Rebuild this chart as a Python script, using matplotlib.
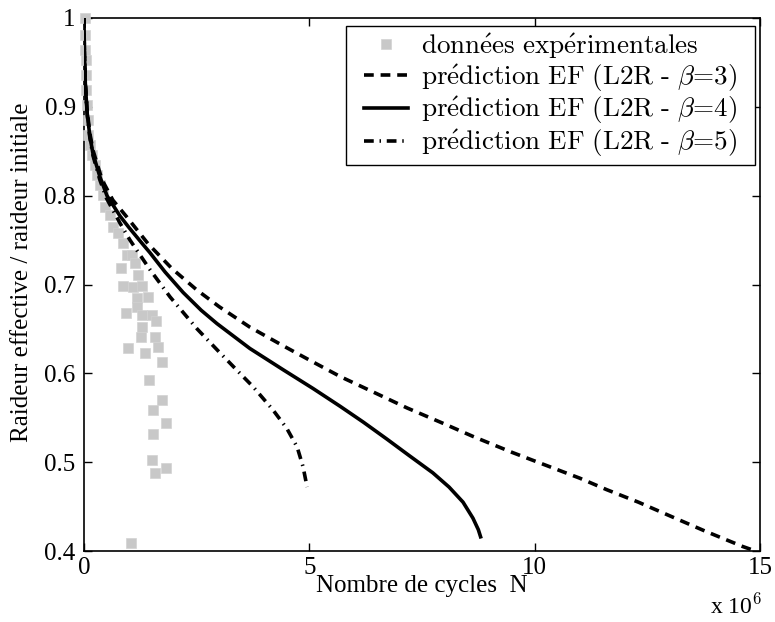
import matplotlib
matplotlib.use("Agg")
import matplotlib.pyplot as plt
from matplotlib.patches import Rectangle

plt.rcParams['font.family'] = ['Liberation Serif', 'DejaVu Serif']
plt.rcParams['mathtext.fontset'] = 'cm'

# experimental data (N in 1e6 cycles, stiffness ratio)
exp_x = [0.02, 0.02, 0.02, 0.04, 0.04, 0.04, 0.07, 0.09, 0.09, 0.13, 0.18, 0.24, 0.29, 0.35, 0.42,
         0.46, 0.58, 0.64, 0.75, 0.86, 0.95, 1.06, 0.82, 1.13, 0.86, 1.19, 1.08, 1.28, 1.17, 1.42,
         1.17, 0.93, 1.28, 1.50, 1.59, 1.28, 1.26, 1.57, 0.97, 1.64, 1.35, 1.73, 1.44, 1.73, 1.53,
         1.81, 1.53, 1.50, 1.81, 1.57, 1.04]
exp_y = [1.000, 0.981, 0.964, 0.953, 0.936, 0.919, 0.902, 0.885, 0.868, 0.857, 0.846, 0.835, 0.823, 0.812, 0.801,
         0.787, 0.778, 0.765, 0.758, 0.747, 0.733, 0.733, 0.719, 0.724, 0.698, 0.711, 0.697, 0.698, 0.685, 0.686,
         0.675, 0.668, 0.666, 0.666, 0.659, 0.652, 0.641, 0.641, 0.629, 0.630, 0.623, 0.613, 0.592, 0.570, 0.559,
         0.544, 0.532, 0.502, 0.493, 0.488, 0.409]

# FE predictions
b3_x = [0, 0.005, 0.01, 0.03, 0.07, 0.13, 0.2, 0.4, 0.64, 0.95, 1.42, 1.95, 2.5, 3.0, 3.68, 4.42, 5.0,
        5.7, 6.5, 7.17, 8.0, 8.63, 9.5, 10.12, 11.0, 11.6, 12.3, 13.07, 13.8, 14.62, 14.9]
b3_y = [1.0, 0.975, 0.96, 0.925, 0.896, 0.870, 0.851, 0.818, 0.795, 0.776, 0.746, 0.718, 0.694, 0.675, 0.652,
        0.631, 0.615, 0.596, 0.577, 0.561, 0.543, 0.529, 0.511, 0.499, 0.482, 0.469, 0.455, 0.438, 0.422,
        0.405, 0.400]

b4_x = [0, 0.005, 0.01, 0.03, 0.07, 0.13, 0.2, 0.355, 0.51, 0.8, 1.0, 1.31, 1.46, 1.8, 2.2, 2.6, 2.95,
        3.68, 4.42, 5.08, 5.68, 6.2, 6.72, 7.2, 7.74, 8.1, 8.41, 8.63, 8.75, 8.8]
b4_y = [1.0, 0.975, 0.96, 0.925, 0.893, 0.867, 0.847, 0.821, 0.800, 0.777, 0.764, 0.745, 0.736, 0.714, 0.691,
        0.671, 0.656, 0.628, 0.604, 0.583, 0.563, 0.545, 0.526, 0.508, 0.488, 0.472, 0.455, 0.437, 0.424,
        0.416]

b5_x = [0, 0.005, 0.01, 0.03, 0.07, 0.13, 0.2, 0.35, 0.5, 0.8, 1.02, 1.46, 1.91, 2.51, 3.0, 3.46, 3.75,
        4.19, 4.5, 4.73, 4.86, 4.95]
b5_y = [1.0, 0.975, 0.96, 0.925, 0.892, 0.865, 0.845, 0.818, 0.797, 0.769, 0.750, 0.717, 0.686, 0.650,
        0.624, 0.600, 0.585, 0.559, 0.538, 0.517, 0.495, 0.472]

xticks = [0, 5, 10, 15]
yticks = [0.4, 0.5, 0.6, 0.7, 0.8, 0.9, 1.0]
ytick_labels = ['0.4', '0.5', '0.6', '0.7', '0.8', '0.9', '1']

fig = plt.figure(figsize=(7.75, 6.22), dpi=100)
ax = fig.add_axes([84/775, 1-551/622, (760-84)/775, (551-18)/622])

ax.plot(exp_x, exp_y, 's', color='#c8c8c8', markersize=7.5, markeredgecolor='#d2d2d2',
        markeredgewidth=0.5, linestyle='none', clip_on=False, zorder=3,
        label=r'$\mathrm{donn\acute{e}es\ exp\acute{e}rimentales}$')
ax.plot(b3_x, b3_y, color='black', lw=2.6, linestyle=(0, (2.7, 1.9)), zorder=4,
        label=r'$\mathrm{pr\acute{e}diction\ EF\ (L2R\ }\text{-}\ \beta\text{=3)}$')
ax.plot(b4_x, b4_y, color='black', lw=2.6, linestyle='-', zorder=4,
        label=r'$\mathrm{pr\acute{e}diction\ EF\ (L2R\ }\text{-}\ \beta\text{=4)}$')
ax.plot(b5_x, b5_y, color='black', lw=2.6, linestyle=(0, (2.7, 1.6, 0.4, 1.6)), zorder=4,
        label=r'$\mathrm{pr\acute{e}diction\ EF\ (L2R\ }\text{-}\ \beta\text{=5)}$')

ax.set_xlim(0, 15)
ax.set_ylim(0.4, 1.0)
ax.set_xticks(xticks)
ax.set_xticklabels([str(t) for t in xticks])
ax.set_yticks(yticks)
ax.set_yticklabels(ytick_labels)
ax.tick_params(direction='in', length=6, width=1, top=True, right=True, labelsize=18)
ax.tick_params(axis='x', pad=4.5)
ax.tick_params(axis='y', pad=6)
for s in ax.spines.values():
    s.set_linewidth(1.2)

ax.set_xlabel('Nombre de cycles  N', fontsize=18, labelpad=-3)
ax.set_ylabel('Raideur effective / raideur initiale', fontsize=18)
ax.yaxis.set_label_coords(-0.076, 0.523)
fig.text(710/775, 1-606/622, r'x 10$^{6}$', fontsize=17, va='center', ha='left')

# legend: Matlab-like box with wide horizontal padding
W, H = 676.0, 533.0
leg = ax.legend(loc='upper right', bbox_to_anchor=(1 - 17/W, 1 - 8/H), fontsize=19.5,
                frameon=False, handlelength=1.6, borderaxespad=0, labelspacing=0.05,
                borderpad=0.2, handletextpad=0.5)
leg.set_zorder(6)
fig.canvas.draw()
bb = leg.get_window_extent().transformed(fig.transFigure.inverted())
padl, padr = 13/775, 12/775
rect = Rectangle((bb.x0 - padl, bb.y0), bb.width + padl + padr, bb.height,
                 transform=fig.transFigure, facecolor='white', edgecolor='black',
                 linewidth=1.0, zorder=5)
ax.add_artist(rect)

fig.savefig('out.png', dpi=100)
